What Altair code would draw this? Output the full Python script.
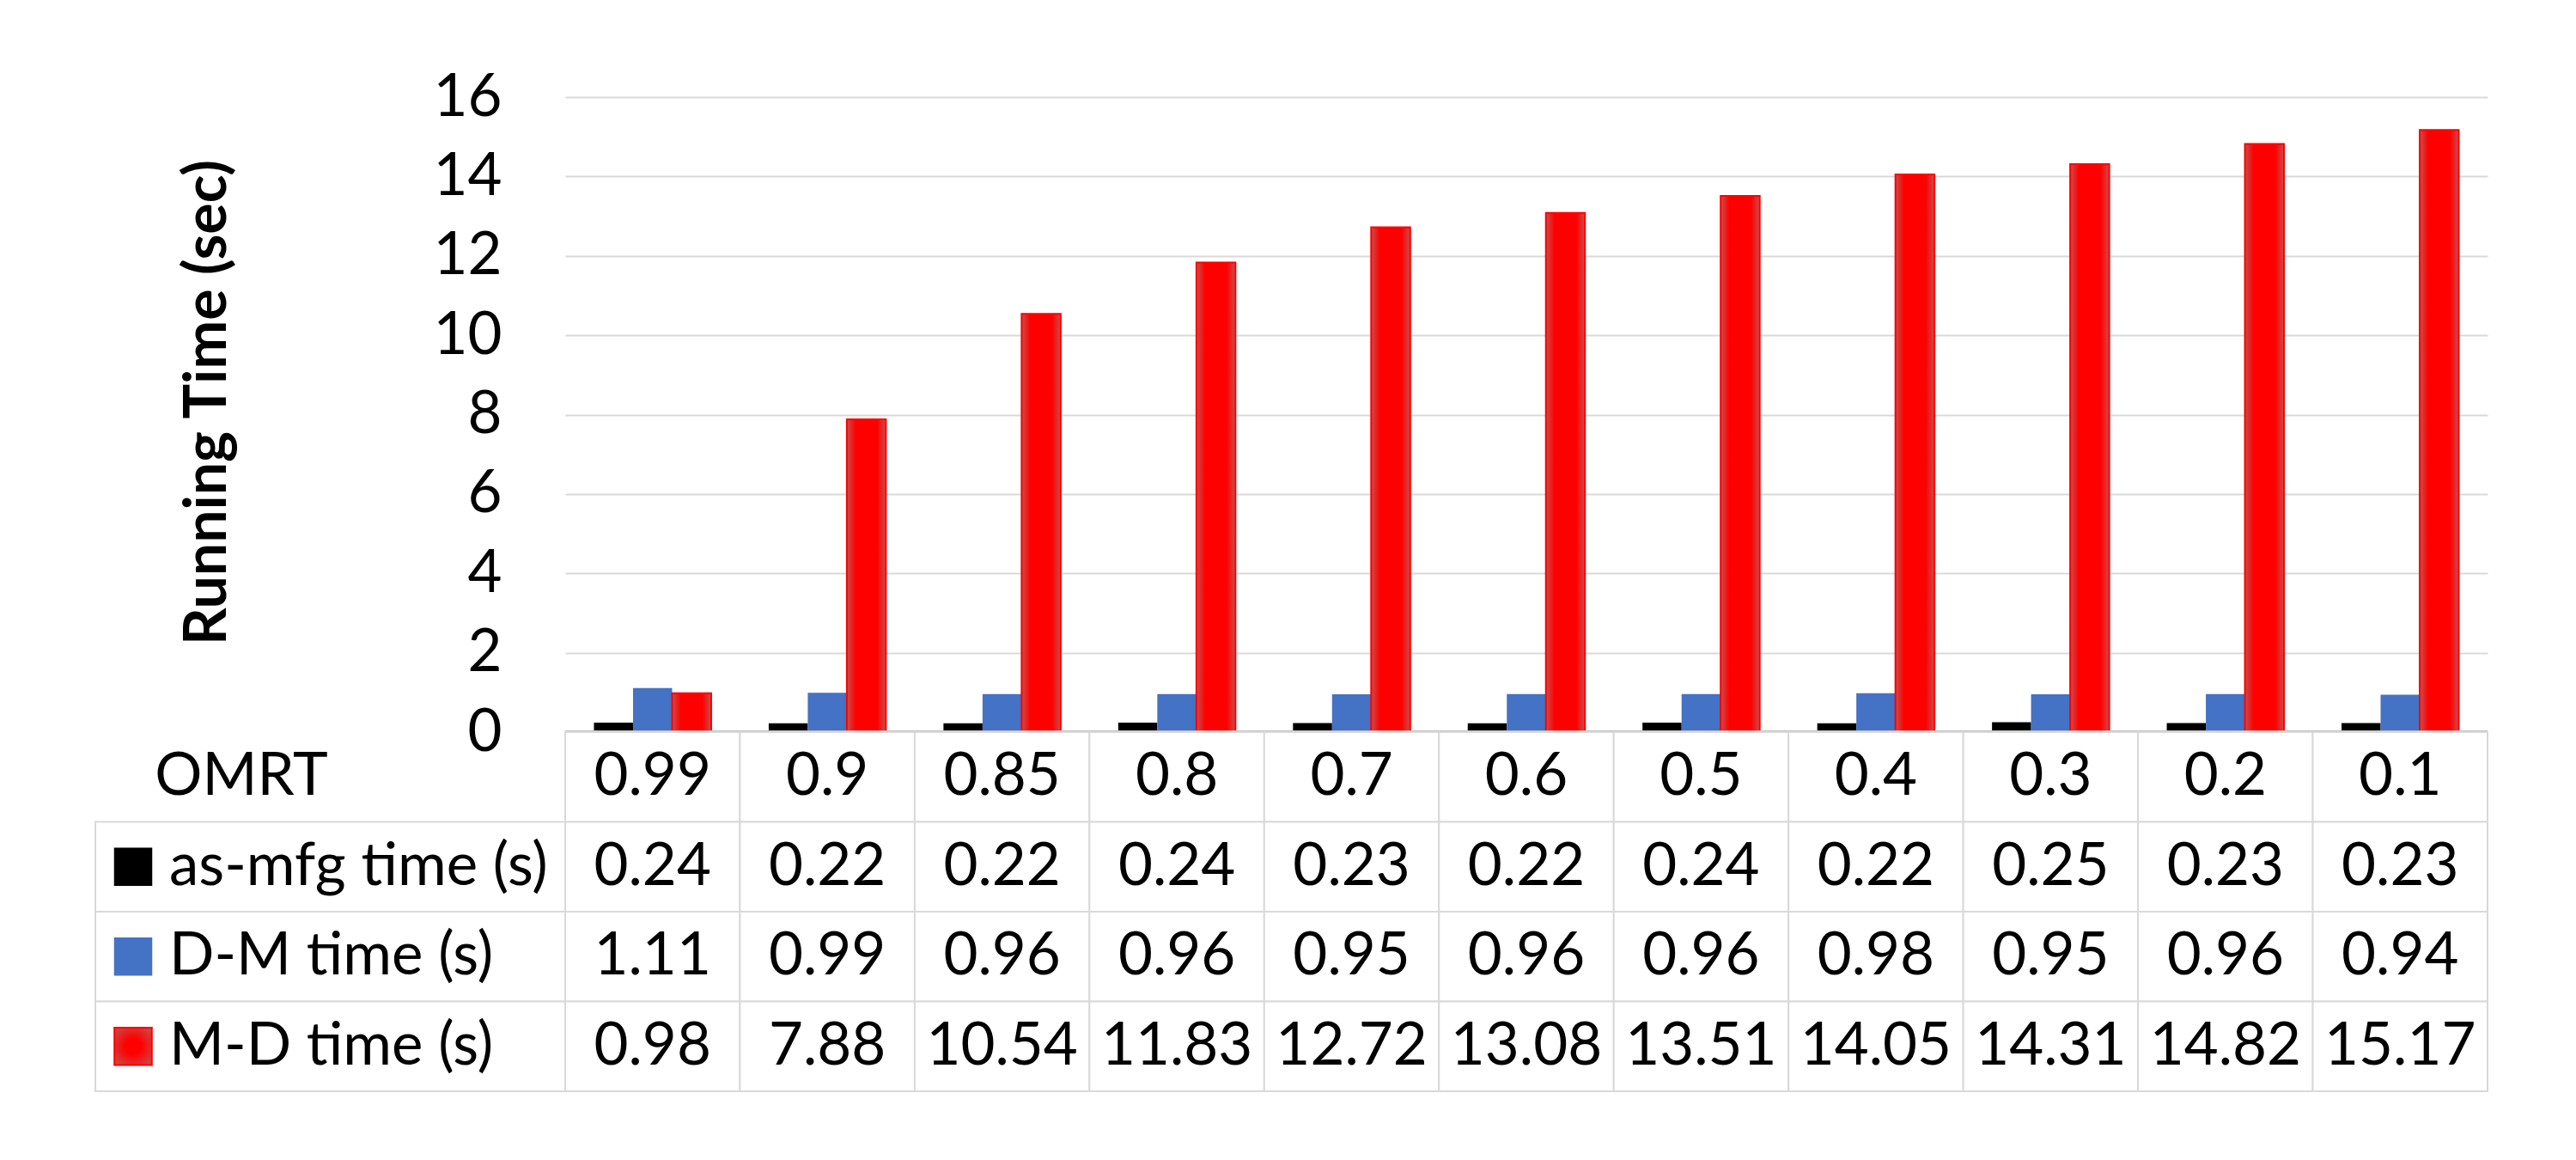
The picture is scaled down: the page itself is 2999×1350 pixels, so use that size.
import altair as alt
import pandas as pd

# --- data ---------------------------------------------------------------
omrt = ["0.99", "0.9", "0.85", "0.8", "0.7", "0.6", "0.5", "0.4", "0.3", "0.2", "0.1"]
as_mfg = [0.24, 0.22, 0.22, 0.24, 0.23, 0.22, 0.24, 0.22, 0.25, 0.23, 0.23]
d_m = [1.11, 0.99, 0.96, 0.96, 0.95, 0.96, 0.96, 0.98, 0.95, 0.96, 0.94]
m_d = [0.98, 7.88, 10.54, 11.83, 12.72, 13.08, 13.51, 14.05, 14.31, 14.82, 15.17]
series = ["as-mfg time (s)", "D-M time (s)", "M-D time (s)"]
colors = ["#000000", "#4472C4", "#FF0000"]
header = "OMRT"
y_ticks = [0, 2, 4, 6, 8, 10, 12, 14, 16]

values_by_series = dict(zip(series, [as_mfg, d_m, m_d]))

bars_df = pd.DataFrame(
    [
        {"omrt": o, "series": s, "value": values_by_series[s][i]}
        for s in series
        for i, o in enumerate(omrt)
    ]
)

rows = [header] + series
table_df = pd.DataFrame(
    [{"omrt": o, "row": header, "label": o} for o in omrt]
    + [
        {"omrt": o, "row": s, "label": f"{values_by_series[s][i]:.2f}"}
        for s in series
        for i, o in enumerate(omrt)
    ]
)
legend_df = pd.DataFrame({"row": series})
header_df = pd.DataFrame({"row": [header]})

# --- layout -------------------------------------------------------------
W = 2238          # plot width
PLOT_H = 739      # height of the bar region (0..16)
H = 1157          # bar region + data table
LEG_W = 547       # width of the legend column left of the plot
FONT = "Lato"
FS = 69
GRID = "#D9D9D9"

x_enc = alt.X(
    "omrt:N",
    sort=omrt,
    scale=alt.Scale(domain=omrt, paddingInner=0, paddingOuter=0),
    axis=None,
)
xoff_enc = alt.XOffset(
    "series:N",
    scale=alt.Scale(domain=series, paddingInner=0, paddingOuter=0.736),
)
y_bar = alt.Y(
    "value:Q",
    scale=alt.Scale(domain=[0, 16], range=[PLOT_H, 0], nice=False),
    axis=alt.Axis(
        values=y_ticks,
        format="d",
        title="Running Time (sec)",
        titleFontSize=68,
        titleFontWeight="bold",
        titleColor="black",
        titleX=-396,
        titleY=355,
        titleAngle=270,
        titleBaseline="alphabetic",
        labelFontSize=FS,
        labelColor="black",
        labelPadding=74,
        ticks=False,
        domain=False,
        grid=True,
        gridColor=GRID,
        gridWidth=2,
    ),
)
color_scale = alt.Scale(domain=series, range=colors)

red_fill = alt.LinearGradient(
    gradient="linear",
    stops=[
        alt.GradientStop(color="#C65050", offset=0),
        alt.GradientStop(color="#FF0000", offset=0.22),
        alt.GradientStop(color="#FF0000", offset=0.78),
        alt.GradientStop(color="#C65050", offset=1),
    ],
    x1=0, x2=1, y1=0, y2=0,
)
red_key_fill = alt.RadialGradient(
    gradient="radial",
    stops=[
        alt.GradientStop(color="#FF0000", offset=0),
        alt.GradientStop(color="#FF0000", offset=0.3),
        alt.GradientStop(color="#C65050", offset=1),
    ],
    x1=0.5, y1=0.5, r1=0, x2=0.5, y2=0.5, r2=0.7,
)

# --- bars ---------------------------------------------------------------
base_bars = alt.Chart(bars_df)

dark_bars = base_bars.mark_bar().encode(
    x=x_enc,
    xOffset=xoff_enc,
    y=y_bar,
    color=alt.Color("series:N", scale=color_scale, legend=None),
).transform_filter(alt.datum.series != series[2])

red_bars = base_bars.mark_bar(
    fill=red_fill, stroke="#FF0000", strokeWidth=2
).encode(
    x=x_enc,
    xOffset=xoff_enc,
    y="value:Q",
).transform_filter(alt.datum.series == series[2])

baseline = base_bars.mark_rule(color="#BFBFBF", strokeWidth=3).encode(
    y=alt.datum(0)
)

bar_layer = alt.layer(dark_bars, red_bars, baseline)

# --- data table ---------------------------------------------------------
y_tab = alt.Y(
    "row:N",
    sort=rows,
    scale=alt.Scale(domain=rows, range=[PLOT_H, H], paddingInner=0, paddingOuter=0),
    axis=None,
)

cells = alt.Chart(table_df).mark_rect(
    fill="white", stroke=GRID, strokeWidth=2
).encode(x=x_enc, y=y_tab)

cell_text = alt.Chart(table_df).mark_text(
    fontSize=FS, color="black", baseline="middle"
).encode(x=x_enc, y=y_tab, text="label:N")

legend_cells = alt.Chart(legend_df).mark_rect(
    fill="white", stroke=GRID, strokeWidth=2
).encode(x=alt.value(-LEG_W), x2=alt.value(0), y=y_tab)

legend_keys = alt.Chart(legend_df).mark_square(size=1980, opacity=1).encode(
    x=alt.value(-503),
    y=y_tab,
    color=alt.Color("row:N", scale=color_scale, legend=None),
).transform_filter(alt.datum.row != series[2])

red_key = alt.Chart(legend_df).mark_square(
    size=1900, opacity=1, fill=red_key_fill, stroke="#FF0000", strokeWidth=2
).encode(x=alt.value(-503), y=y_tab).transform_filter(alt.datum.row == series[2])

legend_text = alt.Chart(legend_df).mark_text(
    fontSize=FS, color="black", align="left", baseline="middle"
).encode(x=alt.value(-461), y=y_tab, text="row:N")

header_text = alt.Chart(header_df).mark_text(
    fontSize=FS, color="black", align="center", baseline="middle"
).encode(x=alt.value(-377), y=y_tab, text="row:N")

table_layer = alt.layer(
    cells, cell_text, legend_cells, legend_keys, red_key, legend_text, header_text
)

chart = (
    alt.layer(bar_layer, table_layer)
    .resolve_scale(y="independent")
    .properties(
        width=W,
        height=H,
        padding={"left": 658, "top": 113, "right": 103, "bottom": 80},
        autosize=alt.AutoSizeParams(type="none"),
        background="white",
    )
    .configure(font=FONT)
    .configure_view(stroke="transparent")
)

chart.save("out.html", embed_options={"renderer": "svg", "actions": False})
